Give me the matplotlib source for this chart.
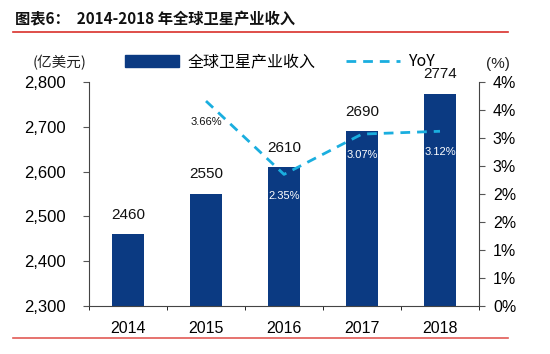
import matplotlib
matplotlib.use("Agg")
import matplotlib.pyplot as plt
import numpy as np
from matplotlib.lines import Line2D
from matplotlib.patches import Patch

plt.rcParams['font.family'] = ['Liberation Sans', 'Noto Sans CJK SC', 'DejaVu Sans']

# data
years = ['2014', '2015', '2016', '2017', '2018']
revenue = [2460, 2550, 2610, 2690, 2774]
yoy_years = ['2015', '2016', '2017', '2018']
yoy = [3.66, 2.35, 3.07, 3.12]
left_ticks = [2300, 2400, 2500, 2600, 2700, 2800]
right_ticks = [0, 0.5, 1, 1.5, 2, 2.5, 3, 3.5, 4]
right_labels = ['0%', '1%', '1%', '2%', '2%', '3%', '3%', '4%', '4%']

bar_color = '#0b3a82'
line_color = '#1aaedf'
cjk = ['Noto Sans CJK SC', 'DejaVu Sans']

fig = plt.figure(figsize=(5.5, 3.54), dpi=100)
ax = fig.add_axes([89/550, 1-306/354, (479-89)/550, (306-82)/354])

x = np.arange(len(years))
ax.bar(x, revenue, width=0.42, color=bar_color, zorder=2)
ax.set_xlim(-0.5, len(years)-0.5)
ax.set_ylim(2300, 2800)
ax.set_yticks(left_ticks)
ax.set_yticklabels([f'{v:,}' for v in left_ticks], fontsize=12)
ax.set_xticks(x)
ax.set_xticklabels(years, fontsize=11.5)
ax.tick_params(axis='x', length=0, pad=11)
ax.set_xticks(np.arange(-0.5, len(years)), minor=True)
ax.tick_params(axis='x', which='minor', length=3, direction='out')
ax.tick_params(axis='y', length=4, direction='out', color='#555555', pad=13)
for s in ['top', 'right']:
    ax.spines[s].set_visible(False)
for s in ['left', 'bottom']:
    ax.spines[s].set_color('#444444')

for xi, v in zip(x, revenue):
    ax.text(xi, v + 28, str(v), ha='center', va='bottom', fontsize=11, color='#111111')

ax2 = ax.twinx()
ax2.set_ylim(0, 4)
ax2.set_yticks(right_ticks)
ax2.set_yticklabels(right_labels, fontsize=11.5)
ax2.tick_params(axis='y', length=4, direction='out', color='#555555', pad=6)
for s in ['top', 'left', 'bottom']:
    ax2.spines[s].set_visible(False)
ax2.spines['right'].set_color('#444444')

xy = [years.index(y) for y in yoy_years]
ax2.plot(xy, yoy, color=line_color, linestyle=(0, (3.5, 2.5)), linewidth=2, zorder=3)

# yoy labels
label_pos = [(0, -0.37, '#111111'), (0, -0.39, 'white'), (0, -0.37, 'white'), (0, -0.37, 'white')]
for xi, v, (dx, dy, c) in zip(xy, yoy, label_pos):
    ax2.text(xi + dx, v + dy, f'{v:.2f}%', ha='center', va='center', fontsize=8, color=c)

# legend
handles = [Patch(color=bar_color), Line2D([0], [0], color=line_color, linestyle=(0, (3.5, 2.5)), linewidth=2)]
leg = fig.legend(handles, ['全球卫星产业收入', 'YoY'], ncol=2, frameon=False,
                 loc='center left', bbox_to_anchor=(125/550, 1-62/354), borderpad=0, borderaxespad=0,
                 handlelength=3.4, handleheight=0.85, columnspacing=1.9, handletextpad=0.5,
                 prop={'family': cjk, 'size': 11.5})

fig.text(33/550, 1-63/354, '(亿美元)', fontsize=10.5, family=cjk, va='center', ha='left', color='#222222')
fig.text(486/550, 1-64/354, '(%)', fontsize=11, va='center', ha='left', color='#222222')

# title and red rules
fig.text(15/550, 1-19/354, '图表6：  2014-2018 年全球卫星产业收入', fontsize=11, fontweight='bold',
         family=cjk, va='center', ha='left', color='#111111')
fig.add_artist(Line2D([13/550, 508/550], [1-32/354, 1-32/354], color='#d9302b', linewidth=1.2))
fig.add_artist(Line2D([13/550, 508/550], [1-338/354, 1-338/354], color='#e25a55', linewidth=1.2))

fig.savefig('out.png', dpi=100)
